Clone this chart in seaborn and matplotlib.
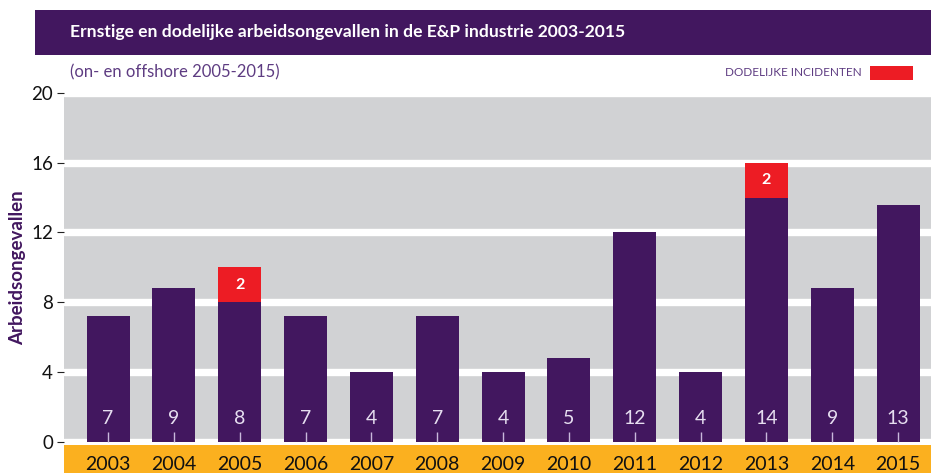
import matplotlib
matplotlib.use("Agg")
import matplotlib.pyplot as plt
import seaborn as sns
import pandas as pd
from matplotlib.patches import Rectangle

# ---- data ----
years = ["2003", "2004", "2005", "2006", "2007", "2008", "2009",
         "2010", "2011", "2012", "2013", "2014", "2015"]
serious = [7.2, 8.8, 8.0, 7.2, 4.0, 7.2, 4.0, 4.8, 12.0, 4.0, 14.0, 8.8, 13.6]
serious_labels = ["7", "9", "8", "7", "4", "7", "4", "5", "12", "4", "14", "9", "13"]
fatal = [0, 0, 2, 0, 0, 0, 0, 0, 0, 0, 2, 0, 0]
yticks = [0, 4, 8, 12, 16, 20]

title = "Ernstige en dodelijke arbeidsongevallen in de E&P industrie 2003-2015"
subtitle = "(on- en offshore 2005-2015)"
legend_label = "DODELIJKE INCIDENTEN"
ylabel = "Arbeidsongevallen"

PURPLE = "#42175f"
RED = "#ed1c24"
GREY = "#d1d2d4"
ORANGE = "#fbb01f"
LABEL_PURPLE = "#5e3c82"

sns.set_theme(style="white")
plt.rcParams["font.family"] = ["Lato", "DejaVu Sans"]

df = pd.DataFrame({"year": years, "serious": serious,
                   "total": [s + f for s, f in zip(serious, fatal)]})

W, H = 931, 473
fig = plt.figure(figsize=(W / 100, H / 100), dpi=100)
fig.patch.set_facecolor("white")

# background bands (figure level, behind everything)
fig.patches.append(Rectangle((64 / W, 0), 1 - 64 / W, (H - 445) / H,
                             transform=fig.transFigure, facecolor=ORANGE,
                             edgecolor="none", zorder=-5))
fig.patches.append(Rectangle((35 / W, (H - 55) / H), 1 - 35 / W, 45 / H,
                             transform=fig.transFigure, facecolor=PURPLE,
                             edgecolor="none", zorder=-5))
fig.patches.append(Rectangle((870 / W, (H - 80) / H), 43 / W, 14 / H,
                             transform=fig.transFigure, facecolor=RED,
                             edgecolor="none", zorder=-5))

y0_px, y20_px = 441.7, 93.0
ax = fig.add_axes([64 / W, (H - y0_px) / H, 1 - 64 / W, (y0_px - y20_px) / H])
ax.set_facecolor(GREY)

# white grid bands
for t in yticks:
    ax.axhline(t, color="white", lw=5.3, zorder=0.5)

sns.barplot(data=df, x="year", y="total", color=RED, width=0.655,
            saturation=1, ax=ax)
sns.barplot(data=df, x="year", y="serious", color=PURPLE, width=0.655,
            saturation=1, ax=ax)
for p in ax.patches:
    p.set_edgecolor("none")

ax.set_axisbelow(False)
ax.set_xlim(-0.67, 12.5)
ax.set_ylim(0, 20)
ax.set_yticks(yticks)
ax.set_yticklabels([str(t) for t in yticks], fontsize=13.5, color="#111111")
ax.tick_params(axis="y", direction="out", length=5, width=0.8, color="#222222",
               pad=3, left=True)
ax.tick_params(axis="x", direction="in", length=7, width=1.0, color="#c9b9dc",
               pad=10, labelsize=14, labelcolor="#111111", bottom=True)
ax.set_xlabel("")
ax.set_ylabel(ylabel, fontsize=13.5, fontweight="bold", color=PURPLE)
ax.yaxis.set_label_coords(-0.044, 0.5)
for s in ax.spines.values():
    s.set_visible(False)

# value labels
for i, (lab, s, f) in enumerate(zip(serious_labels, serious, fatal)):
    ax.text(i, 1.35, lab, ha="center", va="center", fontsize=14,
            color="#e6def0", zorder=6)
    if f:
        ax.text(i, s + f / 2, str(f), ha="center", va="center", fontsize=11.5,
                fontweight="bold", color="white", zorder=6)

# titles and legend text
fig.text(70 / W, (H - 32) / H, title, ha="left", va="center", fontsize=12.6,
         fontweight="bold", color="white")
fig.text(70 / W, (H - 72) / H, subtitle, ha="left", va="center", fontsize=12,
         color=LABEL_PURPLE)
fig.text(862 / W, (H - 73) / H, legend_label, ha="right", va="center",
         fontsize=8.5, color=LABEL_PURPLE)

fig.savefig("out.png", dpi=100, facecolor="white")
